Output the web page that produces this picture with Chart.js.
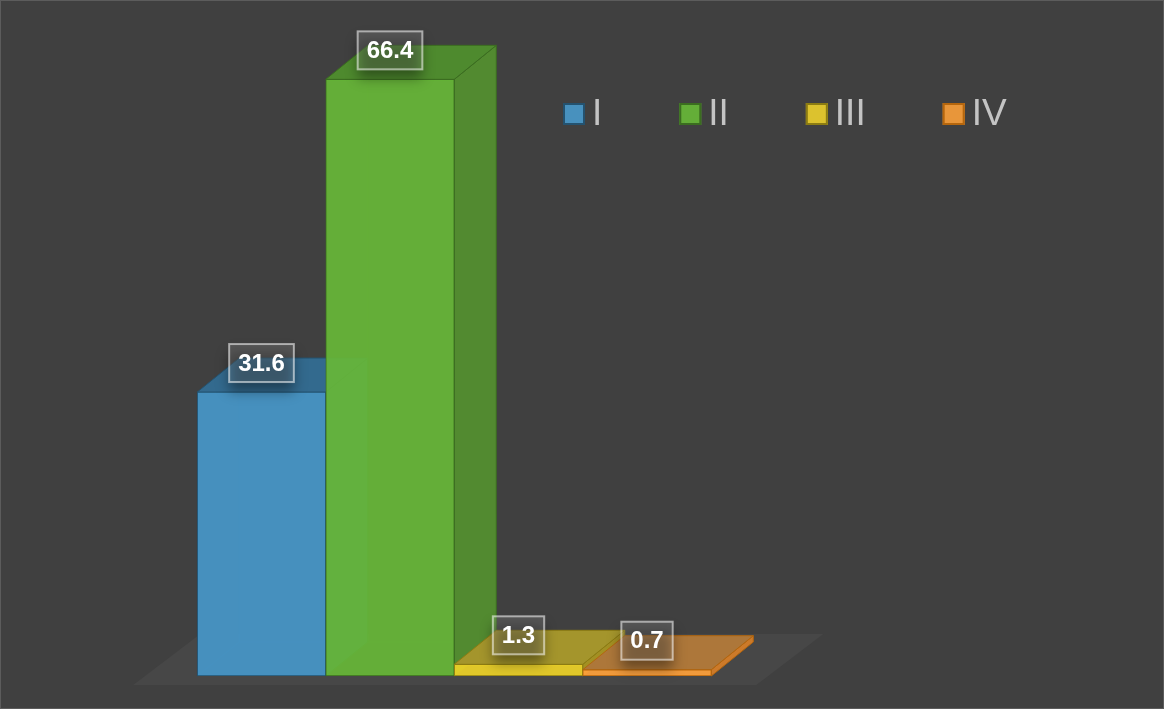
<!DOCTYPE html>
<html>
<head>
<meta charset="utf-8">
<script src="https://cdn.jsdelivr.net/npm/chart.js@4/dist/chart.umd.min.js"></script>
<style>
  html, body { margin: 0; padding: 0; background: #404040; }
  canvas { display: block; }
</style>
</head>
<body>
<canvas id="chart" width="1164" height="709"></canvas>
<script>
const seriesNames = ['I', 'II', 'III', 'IV'];
const seriesValues = [31.6, 66.4, 1.3, 0.7];

// box faces: front (slightly see-through), top, right side, edges
const frontColors = ['rgba(71,151,201,0.92)', 'rgba(103,183,55,0.92)', 'rgba(238,210,40,0.92)', 'rgba(255,162,60,0.92)'];
const topColors = ['#336a8e', '#4e8a2e', '#a4952c', '#ad773a'];
const sideColors = ['#33698e', '#528a30', '#a39023', '#cc7a2a'];
const edgeColors = ['#24526f', '#3b6d20', '#8c7c12', '#b5660d'];
const swatchFill = ['#4891be', '#64ae38', '#dcc22e', '#e8963a'];

const DEPTH_X = 42;
const DEPTH_Y = -34;

function poly(ctx, pts) {
  ctx.beginPath();
  ctx.moveTo(pts[0][0], pts[0][1]);
  for (let k = 1; k < pts.length; k++) ctx.lineTo(pts[k][0], pts[k][1]);
  ctx.closePath();
}

function barBox(chart, i) {
  const bar = chart.getDatasetMeta(i).data[0];
  const p = bar.getProps(['x', 'y', 'base', 'width'], true);
  return {l: p.x - p.width / 2, r: p.x + p.width / 2, t: p.y, b: p.base, cx: p.x};
}

const boxes3d = {
  id: 'boxes3d',
  beforeDraw(chart) {
    const {ctx, width, height} = chart;
    ctx.save();
    ctx.fillStyle = '#404040';
    ctx.fillRect(0, 0, width, height);
    ctx.strokeStyle = '#5c5c5c';
    ctx.lineWidth = 1;
    ctx.strokeRect(0.5, 0.5, width - 1, height - 1);
    ctx.restore();
  },
  beforeDatasetsDraw(chart) {
    // floor plate under the bars
    const ctx = chart.ctx;
    const first = barBox(chart, 0);
    const last = barBox(chart, seriesValues.length - 1);
    const left = first.l - 64;
    const right = last.r + 45;
    const front = first.b + 9;
    ctx.save();
    ctx.fillStyle = '#474747';
    poly(ctx, [[left, front], [right, front], [right + 67, front - 51], [left + 67, front - 51]]);
    ctx.fill();
    ctx.restore();
  },
  beforeDatasetDraw(chart, args) {
    const ctx = chart.ctx;
    const i = args.index;
    const {l, r, t, b} = barBox(chart, i);
    const dx = DEPTH_X, dy = DEPTH_Y;
    ctx.save();
    ctx.lineWidth = 1;
    ctx.strokeStyle = edgeColors[i];
    // back edges, faintly visible through the front face
    ctx.globalAlpha = 0.5;
    ctx.beginPath();
    ctx.moveTo(l, b);
    ctx.lineTo(l + dx, b + dy);
    ctx.lineTo(r + dx, b + dy);
    ctx.moveTo(l + dx, b + dy);
    ctx.lineTo(l + dx, t + dy);
    ctx.stroke();
    ctx.globalAlpha = 1;
    // right side
    ctx.fillStyle = sideColors[i];
    poly(ctx, [[r, t], [r + dx, t + dy], [r + dx, b + dy], [r, b]]);
    ctx.fill();
    ctx.stroke();
    // top
    ctx.fillStyle = topColors[i];
    poly(ctx, [[l, t], [r, t], [r + dx, t + dy], [l + dx, t + dy]]);
    ctx.fill();
    ctx.stroke();
    ctx.restore();
  },
  afterDatasetsDraw(chart) {
    const ctx = chart.ctx;
    ctx.save();
    ctx.font = 'bold 24px "Liberation Sans", Arial, sans-serif';
    ctx.textAlign = 'center';
    ctx.textBaseline = 'middle';
    seriesValues.forEach((v, i) => {
      const {cx, t} = barBox(chart, i);
      const text = v.toFixed(1);
      const w = ctx.measureText(text).width + 18;
      const h = 38;
      const cy = t - 29;
      const x0 = cx - w / 2, y0 = cy - h / 2;
      // soft shadow below the value box
      ctx.save();
      ctx.shadowColor = 'rgba(0,0,0,0.4)';
      ctx.shadowBlur = 12;
      ctx.shadowOffsetX = 10000;
      ctx.shadowOffsetY = 9;
      ctx.fillStyle = '#000';
      ctx.fillRect(x0 - 10000, y0, w, h);
      ctx.restore();
      ctx.fillStyle = 'rgba(255,255,255,0.12)';
      ctx.fillRect(x0, y0, w, h);
      ctx.strokeStyle = 'rgba(255,255,255,0.55)';
      ctx.lineWidth = 2;
      ctx.strokeRect(x0, y0, w, h);
      ctx.fillStyle = '#ffffff';
      ctx.fillText(text, cx, cy + 1);
    });
    ctx.restore();
  },
  afterDraw(chart) {
    // legend row: swatch + series name
    const ctx = chart.ctx;
    ctx.save();
    ctx.font = '37px "Liberation Sans", Arial, sans-serif';
    ctx.textAlign = 'left';
    ctx.textBaseline = 'middle';
    let x = 563;
    const y = 103;
    chart.data.datasets.forEach((ds, i) => {
      ctx.fillStyle = swatchFill[i];
      ctx.fillRect(x, y, 22, 22);
      ctx.strokeStyle = edgeColors[i];
      ctx.lineWidth = 2;
      ctx.strokeRect(x + 1, y + 1, 20, 20);
      ctx.fillStyle = '#c4c4c4';
      ctx.fillText(ds.label, x + 29, y + 12);
      x += 29 + ctx.measureText(ds.label).width + 77;
    });
    ctx.restore();
  }
};

new Chart(document.getElementById('chart'), {
  type: 'bar',
  data: {
    datasets: seriesNames.map((name, i) => ({
      label: name,
      data: [{x: i, y: seriesValues[i]}],
      backgroundColor: frontColors[i],
      borderColor: edgeColors[i],
      borderWidth: 1,
      borderSkipped: false,
      grouped: false,
      categoryPercentage: 1,
      barPercentage: 1,
      // left bar drawn first so the next box covers its hidden faces
      order: seriesNames.length - i
    }))
  },
  options: {
    responsive: false,
    animation: false,
    devicePixelRatio: 1,
    layout: {padding: {top: 47, right: 0, bottom: 33, left: 0}},
    scales: {
      x: {
        type: 'linear',
        display: false,
        offset: false,
        min: -2.035,
        max: 7.023,
        ticks: {stepSize: 1, includeBounds: false}
      },
      y: {display: false, min: 0, max: 70}
    },
    plugins: {
      tooltip: {enabled: false},
      legend: {display: false}
    }
  },
  plugins: [boxes3d]
});
</script>
</body>
</html>
